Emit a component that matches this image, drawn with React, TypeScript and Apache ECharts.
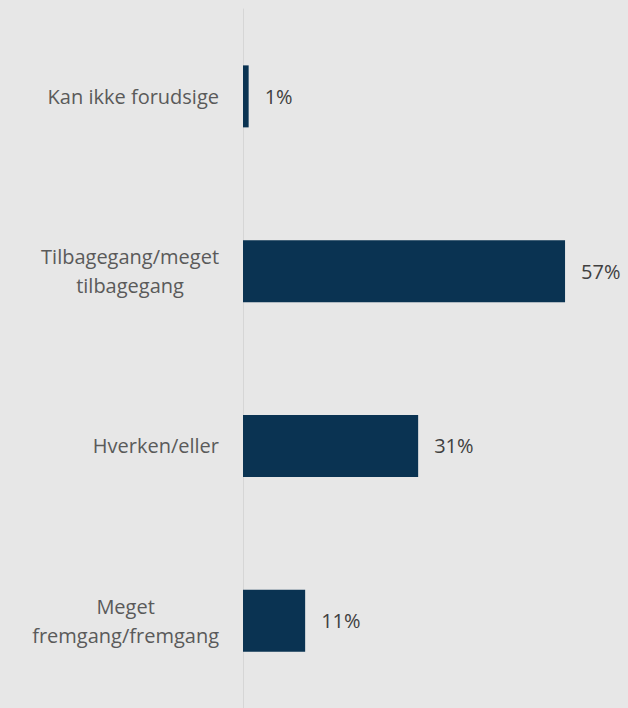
import React, { useEffect, useRef } from "react";
import * as echarts from "echarts";

const categories = [
  "Kan ikke forudsige",
  "Tilbagegang/meget\ntilbagegang",
  "Hverken/eller",
  "Meget\nfremgang/fremgang",
];
const values = [1, 57, 31, 11];

export default function App() {
  const ref = useRef<HTMLDivElement>(null);
  useEffect(() => {
    document.body.style.margin = "0";
    const chart = echarts.init(ref.current!, null, { renderer: "svg" });
    chart.setOption({
      animation: false,
      backgroundColor: "#e7e7e7",
      grid: { left: 243, top: 9, width: 339, height: 704, containLabel: false },
      xAxis: {
        type: "value",
        min: 0,
        max: 60,
        show: false,
      },
      yAxis: {
        type: "category",
        data: categories,
        inverse: true,
        axisLine: { show: true, lineStyle: { color: "#d6d6d6", width: 1 } },
        axisTick: { show: false },
        axisLabel: {
          margin: 24,
          align: "right",
          formatter: (v: string) =>
            v
              .split("\n")
              .map((l) => "{a|" + l + "}")
              .join("\n"),
          rich: {
            a: {
              color: "#5a5a5a",
              fontFamily: "Open Sans",
              fontSize: 20,
              lineHeight: 29,
              align: "center",
            },
          },
        },
      },
      series: [
        {
          type: "bar",
          data: values,
          barWidth: 62,
          itemStyle: { color: "#0a3352" },
          label: {
            show: true,
            position: "right",
            distance: 16,
            formatter: "{c}%",
            color: "#404040",
            fontFamily: "Open Sans",
            fontSize: 20,
          },
        },
      ],
    });
    return () => chart.dispose();
  }, []);
  return <div ref={ref} style={{ width: 628, height: 708 }} />;
}
